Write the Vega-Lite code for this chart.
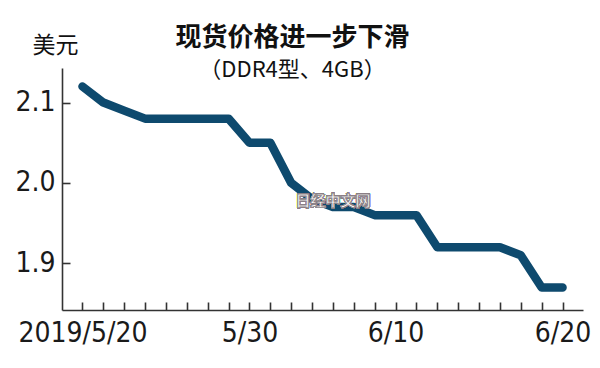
{
  "$schema": "https://vega.github.io/schema/vega-lite/v6.json",
  "width": 521,
  "height": 242,
  "autosize": {"type": "none"},
  "padding": {"left": 62, "top": 68, "right": 17, "bottom": 58},
  "background": "white",
  "title": {
    "text": "现货价格进一步下滑",
    "subtitle": "（DDR4型、4GB）",
    "font": "Noto Sans CJK SC",
    "fontSize": 26,
    "fontWeight": "bold",
    "color": "#111",
    "subtitleFont": "Noto Sans CJK SC",
    "subtitleFontSize": 22,
    "subtitleColor": "#111",
    "subtitlePadding": 9,
    "anchor": "middle",
    "frame": "group",
    "dx": -30,
    "offset": -47
  },
  "config": {
    "view": {"stroke": null},
    "axis": {
      "domainColor": "#333",
      "domainWidth": 1.6,
      "tickColor": "#333",
      "tickWidth": 1.6,
      "tickSize": -8,
      "labelFont": "DejaVu Sans Condensed",
      "labelFontSize": 28,
      "labelColor": "#1a1a1a",
      "grid": false
    }
  },
  "data": {
    "values": [
      {"day": "5/20", "price": 2.12},
      {"day": "5/21", "price": 2.10},
      {"day": "5/22", "price": 2.09},
      {"day": "5/23", "price": 2.08},
      {"day": "5/24", "price": 2.08},
      {"day": "5/27", "price": 2.08},
      {"day": "5/28", "price": 2.08},
      {"day": "5/29", "price": 2.08},
      {"day": "5/30", "price": 2.05},
      {"day": "5/31", "price": 2.05},
      {"day": "6/3", "price": 2.00},
      {"day": "6/4", "price": 1.98},
      {"day": "6/5", "price": 1.97},
      {"day": "6/6", "price": 1.97},
      {"day": "6/7", "price": 1.96},
      {"day": "6/10", "price": 1.96},
      {"day": "6/11", "price": 1.96},
      {"day": "6/12", "price": 1.92},
      {"day": "6/13", "price": 1.92},
      {"day": "6/14", "price": 1.92},
      {"day": "6/17", "price": 1.92},
      {"day": "6/18", "price": 1.91},
      {"day": "6/19", "price": 1.87},
      {"day": "6/20", "price": 1.87}
    ]
  },
  "encoding": {
    "x": {
      "field": "day",
      "type": "ordinal",
      "sort": null,
      "scale": {"type": "point", "padding": 0.98},
      "axis": {
        "title": null,
        "labelAngle": 0,
        "labelPadding": 17,
        "labelExpr": "datum.value == '5/20' ? '2019/5/20' : (datum.value == '5/30' || datum.value == '6/10' || datum.value == '6/20') ? datum.value : ''"
      }
    },
    "y": {
      "field": "price",
      "type": "quantitative",
      "scale": {"domain": [1.842, 2.143], "zero": false, "nice": false},
      "axis": {
        "values": [1.9, 2.0, 2.1],
        "format": ".1f",
        "labelPadding": 15,
        "title": "美元",
        "titleAngle": 0,
        "titleX": -7,
        "titleY": -23,
        "titleAlign": "center",
        "titleBaseline": "middle",
        "titleFont": "Noto Sans CJK SC",
        "titleFontSize": 23,
        "titleFontWeight": "normal",
        "titleColor": "#111"
      }
    }
  },
  "layer": [
    {
      "mark": {"type": "line", "color": "#0e4a6e", "strokeWidth": 8.5, "strokeCap": "round", "strokeJoin": "round"}
    },
    {
      "mark": {"type": "text", "text": "日经中文网", "font": "Noto Sans CJK SC", "fontSize": 15, "fontWeight": "bold", "fill": "white", "stroke": "#8a7f86", "strokeWidth": 0.8, "align": "center", "baseline": "middle"},
      "encoding": {
        "x": {"datum": "6/5", "type": "ordinal"},
        "y": {"datum": 1.978, "type": "quantitative"}
      }
    }
  ]
}
